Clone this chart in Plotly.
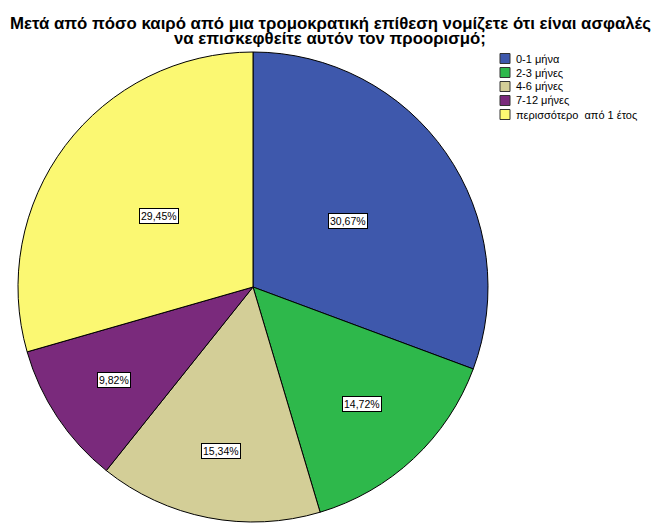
import math
import plotly.graph_objects as go

categories = ["0-1 μήνα", "2-3 μήνες", "4-6 μήνες", "7-12 μήνες", "περισσότερο  από 1 έτος"]
values = [30.67, 14.72, 15.34, 9.82, 29.45]
colors = ["#3E58AC", "#2EB84B", "#D3CE97", "#7A2A7C", "#FBF872"]
title_lines = ["Μετά από πόσο καιρό από μια τρομοκρατική επίθεση νομίζετε ότι είναι ασφαλές",
               "να επισκεφθείτε αυτόν τον προορισμό;"]
label_radius = [0.49, 0.68, 0.71, 0.71, 0.50]

W, H = 659, 523
cx, cy, R = 253, 287, 235
FONT = "Liberation Sans, Arial, sans-serif"

fig = go.Figure(go.Pie(
    labels=categories,
    values=values,
    sort=False,
    direction="clockwise",
    rotation=0,
    marker=dict(colors=colors, line=dict(color="#000000", width=1)),
    textinfo="none",
    hoverinfo="label+percent",
    showlegend=False,
    domain=dict(x=[(cx - R) / W, (cx + R) / W], y=[1 - (cy + R) / H, 1 - (cy - R) / H]),
))

total = sum(values)
cum = 0.0
annotations = []
shapes = []
for v, f in zip(values, label_radius):
    mid = (cum + v / 2) / total * 2 * math.pi
    cum += v
    px = cx + R * f * math.sin(mid)
    py = cy - R * f * math.cos(mid)
    annotations.append(dict(
        x=px / W, y=1 - py / H, xref="paper", yref="paper",
        xanchor="center", yanchor="middle",
        text=f"{v:.2f}".replace(".", ",") + "%",
        showarrow=False,
        font=dict(family=FONT, size=10.5, color="#000000"),
        bgcolor="#FFFFFF", bordercolor="#000000", borderwidth=1, borderpad=1,
    ))

# title lines
for i, line in enumerate(title_lines):
    annotations.append(dict(
        x=330 / W, y=1 - (23 + 15 * i) / H, xref="paper", yref="paper",
        xanchor="center", yanchor="middle", showarrow=False,
        text=f"<b>{line}</b>",
        font=dict(family=FONT, size=16.8, color="#000000"),
    ))

# custom legend
lx, ly0, step, sq = 500, 53.5, 14, 10
for i, (cat, col) in enumerate(zip(categories, colors)):
    top = ly0 + i * step
    shapes.append(dict(
        type="rect", xref="paper", yref="paper",
        x0=lx / W, x1=(lx + sq) / W, y0=1 - (top + sq) / H, y1=1 - top / H,
        fillcolor=col, line=dict(color="#333333", width=1),
    ))
    annotations.append(dict(
        x=(lx + sq + 4) / W, y=1 - (top + sq / 2) / H, xref="paper", yref="paper",
        xanchor="left", yanchor="middle", showarrow=False,
        text=cat.replace("  ", "&nbsp; "),
        font=dict(family=FONT, size=11, color="#000000"),
    ))

fig.update_layout(
    width=W, height=H,
    margin=dict(l=0, r=0, t=0, b=0),
    paper_bgcolor="#FFFFFF",
    showlegend=False,
    annotations=annotations,
    shapes=shapes,
)

fig.write_html("out.html", config={"displayModeBar": False},
               post_script="document.body.style.margin='0';")
